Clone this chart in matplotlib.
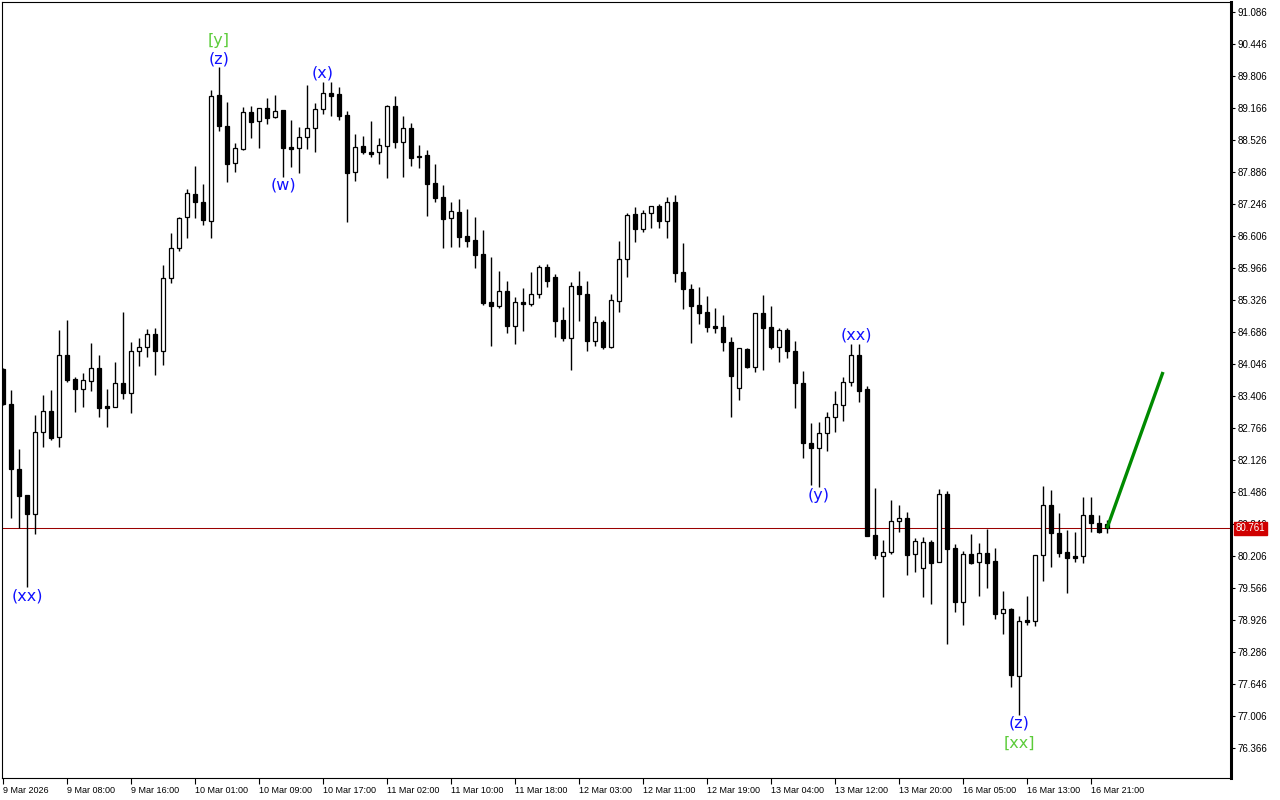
import matplotlib
matplotlib.use("Agg")
import matplotlib.pyplot as plt
import matplotlib.transforms as mtransforms
import numpy as np

# ── data: hourly OHLC ────────────────────────────────────────────────────────
opens = [83.946, 83.246, 81.946, 81.426, 81.046, 82.686, 83.106, 82.586, 84.226, 83.746,
         83.546, 83.706, 83.966, 83.206, 83.186, 83.666, 83.466, 84.306, 84.386, 84.646,
         84.306, 85.766, 86.366, 86.986, 87.446, 87.286, 86.906, 89.426, 88.806, 88.066,
         88.346, 89.086, 88.906, 89.166, 88.986, 89.126, 88.386, 88.366, 88.586, 88.766,
         89.146, 89.466, 89.446, 89.026, 87.886, 88.406, 88.286, 88.286, 88.406, 89.206,
         88.486, 88.766, 88.206, 88.226, 87.666, 87.386, 86.966, 87.086, 86.606, 86.526,
         86.246, 85.286, 85.206, 85.506, 84.806, 85.286, 85.246, 85.446, 85.986, 85.786,
         84.926, 84.566, 85.606, 85.446, 84.506, 84.886, 84.386, 85.306, 86.146, 87.046,
         86.746, 87.066, 87.206, 86.906, 87.286, 85.886, 85.546, 85.226, 85.086, 84.806,
         84.786, 84.486, 83.566, 84.346, 83.986, 85.066, 84.786, 84.386, 84.726, 84.306,
         83.666, 82.466, 82.366, 82.666, 82.986, 83.226, 83.686, 84.226, 83.546, 80.626,
         80.206, 80.286, 80.906, 80.966, 80.246, 79.966, 80.486, 80.086, 81.446, 80.366,
         79.286, 80.246, 80.086, 80.266, 80.106, 79.066, 79.146, 77.806, 78.926, 78.906,
         80.226, 81.226, 80.666, 80.286, 80.206, 80.206, 81.026, 80.866, 80.846]
highs = [83.966, 83.526, 82.346, 81.426, 83.026, 83.426, 83.526, 84.726, 84.926, 83.786,
         83.866, 84.466, 84.226, 83.546, 84.086, 85.086, 84.486, 84.566, 84.746, 84.766,
         86.026, 86.666, 86.986, 87.546, 88.006, 87.646, 89.526, 89.986, 89.286, 88.466,
         89.186, 89.206, 89.166, 89.366, 89.426, 89.126, 88.926, 88.786, 89.626, 89.266,
         89.686, 89.686, 89.586, 89.106, 88.646, 88.606, 88.906, 88.566, 89.226, 89.406,
         89.006, 88.866, 88.426, 88.326, 88.046, 87.626, 87.286, 87.346, 87.146, 86.986,
         86.726, 86.186, 85.906, 85.706, 85.386, 85.566, 85.886, 86.026, 86.046, 85.846,
         85.186, 85.686, 85.906, 85.706, 85.006, 84.926, 85.446, 86.506, 87.066, 87.186,
         87.126, 87.206, 87.246, 87.386, 87.426, 86.466, 85.646, 85.586, 85.406, 85.166,
         85.026, 84.586, 84.366, 84.366, 85.066, 85.426, 85.206, 84.766, 84.766, 84.506,
         83.906, 82.866, 82.886, 83.086, 83.506, 83.786, 84.446, 84.446, 83.606, 81.566,
         80.526, 81.326, 81.226, 81.086, 80.566, 80.586, 80.526, 81.546, 81.506, 80.446,
         80.306, 80.646, 80.466, 80.746, 80.366, 79.506, 79.166, 79.006, 79.406, 80.226,
         81.606, 81.526, 81.066, 80.726, 80.686, 81.386, 81.386, 81.026, 80.926]
lows = [83.226, 80.966, 80.766, 79.586, 80.646, 82.386, 82.526, 82.386, 83.686, 83.086,
        83.186, 83.506, 82.986, 82.786, 83.186, 83.346, 83.066, 84.006, 84.186, 83.826,
        84.026, 85.666, 86.306, 86.566, 86.966, 86.826, 86.566, 88.706, 87.686, 87.886,
        88.326, 88.566, 88.366, 88.846, 88.966, 87.786, 87.986, 87.866, 88.346, 88.286,
        89.046, 89.006, 88.926, 86.886, 87.706, 88.246, 88.186, 88.046, 87.766, 88.366,
        87.786, 88.006, 87.966, 87.006, 87.286, 86.366, 86.386, 86.386, 86.386, 85.966,
        85.226, 84.406, 85.166, 84.666, 84.446, 84.706, 85.206, 85.366, 85.586, 84.586,
        84.506, 83.926, 84.906, 84.306, 84.406, 84.346, 84.366, 85.086, 85.786, 86.486,
        86.686, 86.766, 86.766, 86.566, 85.686, 85.146, 84.466, 84.846, 84.686, 84.666,
        84.306, 82.986, 83.326, 83.966, 83.886, 83.926, 84.346, 84.086, 84.166, 83.166,
        82.166, 81.626, 81.586, 82.306, 82.686, 82.906, 83.606, 83.286, 80.606, 80.146,
        79.386, 80.246, 80.686, 79.826, 79.886, 79.386, 79.246, 80.086, 78.446, 79.086,
        78.826, 80.046, 79.406, 79.566, 78.946, 78.646, 77.586, 77.026, 78.826, 78.806,
        79.706, 79.986, 80.186, 79.466, 80.086, 80.066, 80.686, 80.666, 80.666]
closes = [83.246, 81.946, 81.406, 81.046, 82.686, 83.106, 82.566, 84.226, 83.726, 83.546,
          83.726, 83.966, 83.166, 83.166, 83.666, 83.466, 84.306, 84.386, 84.646, 84.306,
          85.766, 86.366, 86.966, 87.466, 87.286, 86.926, 89.406, 88.806, 88.046, 88.366,
          89.086, 88.886, 89.166, 88.966, 89.106, 88.366, 88.346, 88.586, 88.766, 89.146,
          89.466, 89.406, 89.006, 87.866, 88.386, 88.286, 88.246, 88.426, 89.206, 88.486,
          88.766, 88.166, 88.186, 87.646, 87.366, 86.946, 87.106, 86.586, 86.506, 86.226,
          85.266, 85.206, 85.506, 84.806, 85.286, 85.246, 85.446, 85.986, 85.706, 84.906,
          84.566, 85.606, 85.446, 84.506, 84.886, 84.386, 85.326, 86.146, 87.026, 86.746,
          87.066, 87.206, 86.906, 87.286, 85.866, 85.546, 85.206, 85.066, 84.786, 84.766,
          84.486, 83.806, 84.366, 83.986, 85.066, 84.766, 84.386, 84.726, 84.306, 83.666,
          82.466, 82.366, 82.666, 82.986, 83.246, 83.686, 84.226, 83.506, 80.606, 80.226,
          80.286, 80.906, 80.966, 80.226, 80.506, 80.486, 80.066, 81.446, 80.346, 79.286,
          80.246, 80.066, 80.266, 80.066, 79.046, 79.146, 77.826, 78.906, 78.886, 80.226,
          81.226, 80.666, 80.266, 80.166, 80.166, 81.026, 80.866, 80.686, 80.761]

time_labels = ["9 Mar 2026", "9 Mar 08:00", "9 Mar 16:00", "10 Mar 01:00", "10 Mar 09:00",
               "10 Mar 17:00", "11 Mar 02:00", "11 Mar 10:00", "11 Mar 18:00", "12 Mar 03:00",
               "12 Mar 11:00", "12 Mar 19:00", "13 Mar 04:00", "13 Mar 12:00", "13 Mar 20:00",
               "16 Mar 05:00", "16 Mar 13:00", "16 Mar 21:00"]
label_bars = [0, 8, 16, 24, 32, 40, 48, 56, 64, 72, 80, 88, 96, 104, 112, 120, 128, 136]

price_ticks = [91.086, 90.446, 89.806, 89.166, 88.526, 87.886, 87.246, 86.606, 85.966,
               85.326, 84.686, 84.046, 83.406, 82.766, 82.126, 81.486, 80.846, 80.206,
               79.566, 78.926, 78.286, 77.646, 77.006, 76.366]

last_price = 80.761

# forecast arrow (green)
forecast_bars = [138, 145]
forecast_prices = [80.761, 83.886]

# Elliott wave marks: text, bar, price, colour key
wave_text = ["[y]", "(z)", "(x)", "(w)", "(xx)", "(xx)", "(y)", "(z)", "[xx]"]
wave_bars = [27, 27, 40, 35, 3, 106.7, 102, 127, 127]
wave_prices = [90.526, 90.146, 89.866, 87.626, 79.406, 84.626, 81.426, 76.866, 76.466]
wave_kind = ["green", "blue", "blue", "blue", "blue", "blue", "blue", "blue", "green"]

BLUE = "#1010ff"
GREEN = "#5ccc3a"

# ── figure ───────────────────────────────────────────────────────────────────
fig = plt.figure(figsize=(12.8, 8.0), dpi=100)
ax = fig.add_axes([2 / 1280, 1 - 778 / 800, 1229 / 1280, 776 / 800])

x = np.arange(len(opens))
o = np.array(opens)
c = np.array(closes)

ax.vlines(x, lows, highs, color="black", linewidth=1.0, zorder=2)
bull = c > o
bottoms = np.minimum(o, c)
heights = np.maximum(np.abs(c - o), 0.012)
ax.bar(x[bull], heights[bull], bottom=bottoms[bull], width=0.62,
       facecolor="white", edgecolor="black", linewidth=0.9, zorder=3)
ax.bar(x[~bull], heights[~bull], bottom=bottoms[~bull], width=0.62,
       facecolor="black", edgecolor="black", linewidth=0.9, zorder=3)

# last price line + label
ax.axhline(last_price, color="#9a0000", linewidth=0.75, zorder=1)
trans = mtransforms.blended_transform_factory(ax.transAxes, ax.transData)
ax.text(1.0035, last_price, f"{last_price:.3f}", transform=trans, ha="left", va="center",
        color="white", fontsize=7, family="Liberation Sans", zorder=10, clip_on=False,
        bbox=dict(boxstyle="square,pad=0.18", facecolor="#d00000", edgecolor="#d00000"))

# forecast line
ax.plot(forecast_bars, forecast_prices, color="#008a00", linewidth=2.4,
        solid_capstyle="butt", zorder=4)

# wave labels
for t, b, p, k in zip(wave_text, wave_bars, wave_prices, wave_kind):
    ax.text(b, p, t, ha="center", va="center", fontsize=11.5,
            color=GREEN if k == "green" else BLUE, family="DejaVu Sans", zorder=6)

# axes styling
ax.set_xlim(-0.125, 153.5)
ax.set_ylim(75.766, 91.286)
for s in ax.spines.values():
    s.set_linewidth(0.8)
    s.set_color("black")
ax.spines["right"].set_linewidth(2.2)

ax.yaxis.tick_right()
ax.set_yticks(price_ticks)
ax.set_yticklabels([f"{v:.3f}" for v in price_ticks], family="Liberation Sans", fontsize=7)
ax.tick_params(axis="y", direction="out", length=3, width=0.8, pad=1.5)

ax.set_xticks(label_bars)
ax.set_xticklabels(time_labels, family="Liberation Sans", fontsize=6.5)
for lbl in ax.get_xticklabels():
    lbl.set_horizontalalignment("left")
ax.tick_params(axis="x", direction="out", length=4, width=0.8, pad=1.5)

fig.savefig("out.png", dpi=100, facecolor="white")
